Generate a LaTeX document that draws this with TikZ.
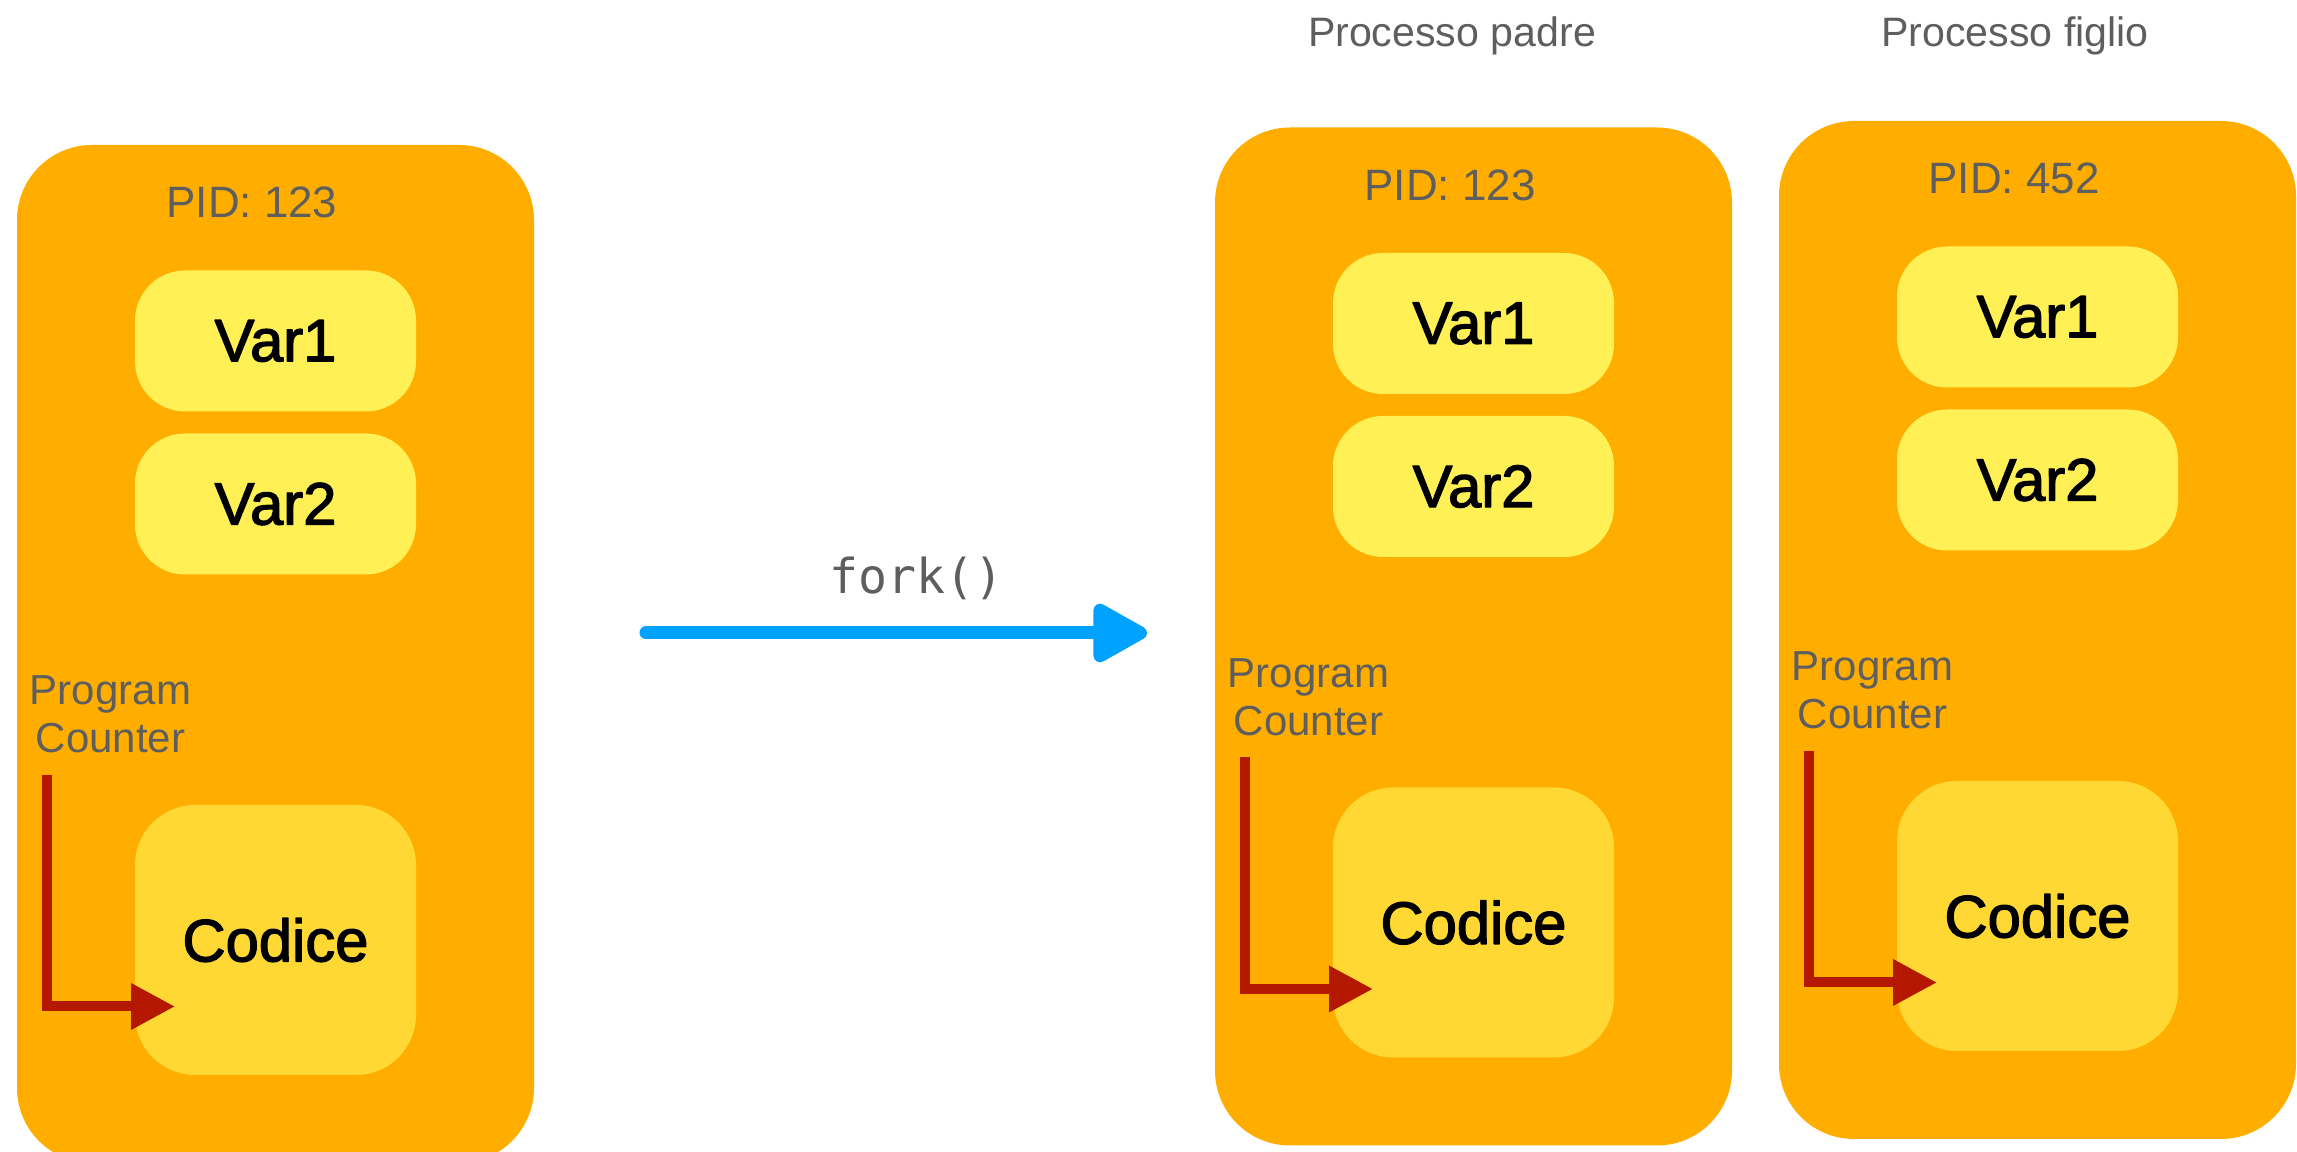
\documentclass[tikz,border=0pt]{standalone}
\usepackage{fontspec}
\setmainfont{Liberation Sans}
\newfontfamily\medfont[FakeBold=2.2]{Liberation Sans}
\newfontfamily\forkfont{DejaVu Sans Mono}
\usetikzlibrary{arrows.meta}
\definecolor{procorange}{HTML}{FFAE00}
\definecolor{varyellow}{HTML}{FFF056}
\definecolor{codeyellow}{HTML}{FFD833}
\definecolor{pcred}{HTML}{B51800}
\definecolor{forkblue}{HTML}{00A2FF}
\definecolor{txtgrey}{HTML}{5E5E5E}
\begin{document}
\begin{tikzpicture}[x=0.1mm, y=-0.1mm, line join=round, line cap=round,
    procbox/.style={fill=procorange, rounded corners=7.5mm, minimum width=51.7mm, minimum height=101.8mm, inner sep=0pt},
    varbox/.style={fill=varyellow, rounded corners=5mm, minimum width=28.1mm, minimum height=14.1mm, inner sep=0pt, font=\medfont\fontsize{17pt}{20pt}\selectfont},
    codebox/.style={fill=codeyellow, rounded corners=6mm, minimum width=28.1mm, minimum height=27mm, inner sep=0pt, font=\medfont\fontsize{17pt}{20pt}\selectfont},
    pidtext/.style={text=txtgrey, inner sep=0pt, font=\fontsize{12.5pt}{15pt}\selectfont},
    pctext/.style={text=txtgrey, inner sep=0pt, align=center, font=\fontsize{11.95pt}{13.66pt}\selectfont},
    titletext/.style={text=txtgrey, inner sep=0pt, font=\fontsize{11.7pt}{14pt}\selectfont},
    forktext/.style={text=txtgrey, inner sep=0pt, font=\forkfont\fontsize{13.7pt}{16pt}\selectfont},
    pcarrow/.style={draw=pcred, line width=1mm, line cap=butt, line join=miter, -{Triangle[length=4.4mm, width=4.4mm]}},
    forkarrow/.style={draw=forkblue, line width=1.3mm, -{Triangle[length=6.1mm, width=6.4mm, round]}}]
  \useasboundingbox (0,0) rectangle (2297,1152);
  % one process: box, pid, two variables, code and program counter
  \foreach \i/\x/\y/\pid in {main/17/145/123, padre/1215/127.5/123, figlio/1779/121/452}{
    \begin{scope}[shift={(\x,\y)}]
      \node[procbox] (proc-\i) at (258.5,509) {};
      \node[pidtext, anchor=base] (pid-\i) at (235,73) {PID: \pid};
      \node[varbox] (var1-\i) at (258.5,196) {Var1};
      \node[varbox] (var2-\i) at (258.5,359) {Var2};
      \node[codebox] (code-\i) at (258.5,795) {Codice};
      \node[pctext, anchor=north] (pc-label-\i) at (93.5,530) {Program\\Counter};
      \coordinate (pc-\i) at (30,630);
      \coordinate (pc-end-\i) at (158,861.5);
      \draw[pcarrow] (pc-\i) |- (pc-end-\i);
    \end{scope}
  }
  \node[titletext, anchor=base] (title-padre) at (1452,47) {Processo padre};
  \node[titletext, anchor=base] (title-figlio) at (2015,47) {Processo figlio};
  % the fork call
  \coordinate (fork-a) at (646,633);
  \coordinate (fork-b) at (1147,633);
  \draw[forkarrow] (fork-a) -- (fork-b) node[forktext, pos=0.54, anchor=base, yshift=3.9mm] (fork-label) {fork()};
\end{tikzpicture}
\end{document}
